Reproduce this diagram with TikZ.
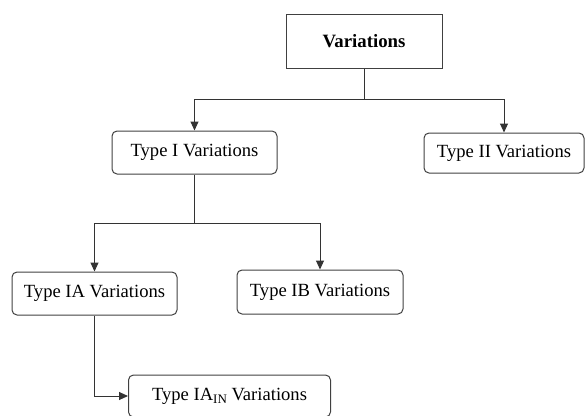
\documentclass[tikz,border=0pt]{standalone}
\usepackage{fontspec}
\setmainfont{Liberation Serif}
\usetikzlibrary{arrows.meta}
\begin{document}
\begin{tikzpicture}[x=1pt,y=-1pt,
  box/.style={draw=black!75, line width=1pt, rounded corners=5pt, inner sep=0pt,
    font=\fontsize{18.6}{20}\selectfont, align=center},
  topbox/.style={box, rounded corners=0pt, font=\fontsize{18.8}{20}\selectfont\bfseries},
  link/.style={draw=black!80, line width=1pt},
  arr/.style={link, -{Triangle[length=9pt,width=8pt]}}]
\useasboundingbox (0,0) rectangle (586,415);
% boxes
\node[topbox, minimum width=156pt, minimum height=54pt] (var) at (364,41) {Variations};
\node[box, minimum width=165pt, minimum height=43pt] (t1) at (194.5,152.5) {Type I Variations};
\node[box, minimum width=160pt, minimum height=40pt] (t2) at (504,153) {Type II Variations};
\node[box, minimum width=165pt, minimum height=43pt] (t1a) at (94.5,293.5) {Type IA Variations};
\node[box, minimum width=166pt, minimum height=44pt] (t1b) at (320,292) {Type IB Variations};
\node[box, minimum width=202pt, minimum height=42pt] (t1ain) at (229.5,396)
  {Type IA\raisebox{-0.35ex}{\fontsize{13}{14}\selectfont IN} Variations};
% junction points
\coordinate (j1) at (var.south |- 0,99);
\coordinate (j2) at (t1.south |- 0,223);
% connectors
\draw[link] (var.south) -- (j1);
\draw[arr] (j1) -| (t1.north);
\draw[arr] (j1) -| (t2.north);
\draw[link] (t1.south) -- (j2);
\draw[arr] (j2) -| (t1a.north);
\draw[arr] (j2) -| (t1b.north);
\draw[arr] (t1a.south) |- (t1ain.west);
\end{tikzpicture}
\end{document}
